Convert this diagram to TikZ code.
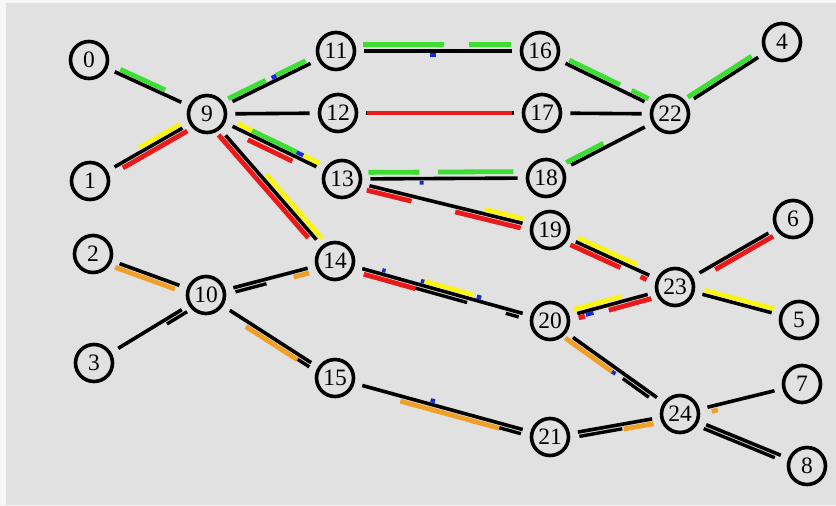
\documentclass[tikz,border=0pt]{standalone}
\usepackage{fontspec}
\setmainfont{Liberation Serif}
\usetikzlibrary{calc}

\definecolor{bg}{RGB}{225,225,225}
\definecolor{frame}{RGB}{247,247,247}
\definecolor{pgreen}{RGB}{60,222,50}
\definecolor{pyellow}{RGB}{250,245,20}
\definecolor{pred}{RGB}{235,25,25}
\definecolor{porange}{RGB}{240,160,40}
\definecolor{pblue}{RGB}{25,40,215}

\tikzset{
  nd/.style={circle,draw=black,line width=3.6pt,minimum size=37pt,inner sep=0pt,
    font=\fontsize{23.5}{23.5}\selectfont},
  link/.style={draw=black,line width=3.6pt,shorten >=8pt,shorten <=8pt},
  pkt/.style={line width=4.8pt},
  bpkt/.style={line width=3.4pt,black},
  bmark/.style={line width=4pt,pblue}
}

% packet bar along the link A--B between fractions t1,t2, on side angle (90/-90) at distance d
\newcommand{\pkt}[7]{\draw[#7] ($(#1.center)!#3!(#2.center)!#6!#5:(#2.center)$) -- ($(#1.center)!#4!(#2.center)!#6!#5:(#2.center)$);}

\begin{document}
\begin{tikzpicture}[x=1pt,y=-1pt]
\fill[frame] (0,0) rectangle (836,506);
\fill[bg] (6,3) rectangle (836,505);
\useasboundingbox (0,0) rectangle (836,506);

% nodes
\node[nd] (n0) at (89,60) {0};
\node[nd] (n1) at (90,181) {1};
\node[nd] (n2) at (93,254) {2};
\node[nd] (n3) at (94,363) {3};
\node[nd] (n4) at (782,42) {4};
\node[nd] (n5) at (799,320) {5};
\node[nd] (n6) at (793,219) {6};
\node[nd] (n7) at (802,384) {7};
\node[nd] (n8) at (807,466) {8};
\node[nd] (n9) at (207,114) {9};
\node[nd] (n10) at (206,295) {10};
\node[nd] (n11) at (336,51) {11};
\node[nd] (n12) at (338,113) {12};
\node[nd] (n13) at (342,179) {13};
\node[nd] (n14) at (335,261) {14};
\node[nd] (n15) at (335,378) {15};
\node[nd] (n16) at (540,51) {16};
\node[nd] (n17) at (542,113) {17};
\node[nd] (n18) at (546,178) {18};
\node[nd] (n19) at (550,230) {19};
\node[nd] (n20) at (550,321) {20};
\node[nd] (n21) at (550,437) {21};
\node[nd] (n22) at (670,114) {22};
\node[nd] (n23) at (675,287) {23};
\node[nd] (n24) at (680,414) {24};

% links
\foreach \a/\b in {n0/n9,n1/n9,n9/n11,n9/n12,n9/n13,n9/n14,n2/n10,n3/n10,n10/n14,n10/n15,
  n11/n16,n12/n17,n13/n18,n13/n19,n14/n20,n15/n21,n16/n22,n17/n22,n18/n22,n22/n4,
  n19/n23,n20/n23,n23/n6,n23/n5,n20/n24,n21/n24,n24/n7,n24/n8}
  \draw[link] (\a) -- (\b);

% packets in flight
\pkt{n0}{n9}{.25}{.63}{90}{4.5pt}{pkt,pgreen}
\pkt{n1}{n9}{.44}{.79}{90}{4.5pt}{pkt,pyellow}
\pkt{n1}{n9}{.26}{.81}{-90}{5pt}{pkt,pred}

\pkt{n9}{n11}{.18}{.47}{90}{4.5pt}{pkt,pgreen}
\pkt{n9}{n11}{.55}{.78}{90}{4.5pt}{pkt,pgreen}
\pkt{n9}{n11}{.515}{.55}{90}{4pt}{bmark}

\pkt{n9}{n13}{.21}{.32}{90}{4.5pt}{pkt,pyellow}
\pkt{n9}{n13}{.32}{.65}{90}{4.5pt}{pkt,pgreen}
\pkt{n9}{n13}{.65}{.70}{90}{4.5pt}{bmark}
\pkt{n9}{n13}{.70}{.82}{90}{4.5pt}{pkt,pyellow}
\pkt{n9}{n13}{.32}{.65}{-90}{5.5pt}{pkt,pred}

\pkt{n9}{n14}{.12}{.82}{-90}{5pt}{pkt,pred}
\pkt{n9}{n14}{.43}{.87}{90}{5pt}{pkt,pyellow}

\pkt{n2}{n10}{.21}{.74}{-90}{5pt}{pkt,porange}
\pkt{n3}{n10}{.63}{.81}{-90}{4.5pt}{bpkt}
\pkt{n10}{n14}{.22}{.46}{-90}{4.5pt}{bpkt}
\pkt{n10}{n14}{.67}{.79}{-90}{5pt}{pkt,porange}
\pkt{n10}{n15}{.33}{.73}{-90}{5pt}{pkt,porange}
\pkt{n10}{n15}{.73}{.82}{-90}{4.5pt}{bpkt}

\pkt{n11}{n16}{.13}{.53}{90}{6.5pt}{pkt,pgreen}
\pkt{n11}{n16}{.65}{.86}{90}{6.5pt}{pkt,pgreen}
\pkt{n11}{n16}{.46}{.49}{-90}{4pt}{bmark}

\pkt{n12}{n17}{.14}{.855}{90}{0pt}{pkt,pred}

\pkt{n13}{n18}{.13}{.38}{90}{6.5pt}{pkt,pgreen}
\pkt{n13}{n18}{.47}{.84}{90}{6.5pt}{pkt,pgreen}
\pkt{n13}{n18}{.38}{.40}{-90}{4pt}{bmark}

\pkt{n13}{n19}{.125}{.34}{-90}{5pt}{pkt,pred}
\pkt{n13}{n19}{.55}{.865}{-90}{5pt}{pkt,pred}
\pkt{n13}{n19}{.68}{.87}{90}{4.5pt}{pkt,pyellow}

\pkt{n14}{n20}{.14}{.38}{-90}{5pt}{pkt,pred}
\pkt{n14}{n20}{.38}{.62}{-90}{4.5pt}{bpkt}
\pkt{n14}{n20}{.40}{.64}{90}{4.5pt}{pkt,pyellow}
\pkt{n14}{n20}{.80}{.86}{-90}{4.5pt}{bpkt}
\pkt{n14}{n20}{.215}{.23}{90}{4pt}{bmark}
\pkt{n14}{n20}{.395}{.41}{90}{4pt}{bmark}
\pkt{n14}{n20}{.655}{.675}{90}{4pt}{bmark}

\pkt{n15}{n21}{.31}{.77}{-90}{5pt}{pkt,porange}
\pkt{n15}{n21}{.77}{.87}{-90}{4.5pt}{bpkt}
\pkt{n15}{n21}{.44}{.46}{90}{4pt}{bmark}

\pkt{n16}{n22}{.21}{.60}{90}{4.5pt}{pkt,pgreen}
\pkt{n16}{n22}{.69}{.82}{90}{4.5pt}{pkt,pgreen}
\pkt{n18}{n22}{.18}{.48}{90}{4.5pt}{pkt,pgreen}
\pkt{n22}{n4}{.18}{.75}{90}{4.5pt}{pkt,pgreen}

\pkt{n19}{n23}{.21}{.68}{90}{4.5pt}{pkt,pyellow}
\pkt{n19}{n23}{.18}{.58}{-90}{5pt}{pkt,pred}
\pkt{n19}{n23}{.74}{.79}{-90}{5pt}{pkt,pred}

\pkt{n20}{n23}{.20}{.58}{90}{5pt}{pkt,pyellow}
\pkt{n20}{n23}{.46}{.80}{-90}{5pt}{pkt,pred}
\pkt{n20}{n23}{.22}{.27}{-90}{4.5pt}{pkt,pred}
\pkt{n20}{n23}{.28}{.34}{-90}{3.5pt}{bmark}

\pkt{n23}{n6}{.32}{.81}{-90}{5pt}{pkt,pred}
\pkt{n23}{n5}{.23}{.79}{90}{4.5pt}{pkt,pyellow}

\pkt{n20}{n24}{.14}{.50}{-90}{5pt}{pkt,porange}
\pkt{n20}{n24}{.50}{.525}{-90}{5pt}{bmark}
\pkt{n20}{n24}{.58}{.78}{-90}{4.5pt}{bpkt}

\pkt{n21}{n24}{.22}{.55}{-90}{4.5pt}{bpkt}
\pkt{n21}{n24}{.56}{.79}{-90}{5pt}{pkt,porange}
\pkt{n24}{n7}{.25}{.30}{-90}{5pt}{pkt,porange}
\pkt{n24}{n8}{.20}{.76}{-90}{4.5pt}{bpkt}
\end{tikzpicture}
\end{document}
